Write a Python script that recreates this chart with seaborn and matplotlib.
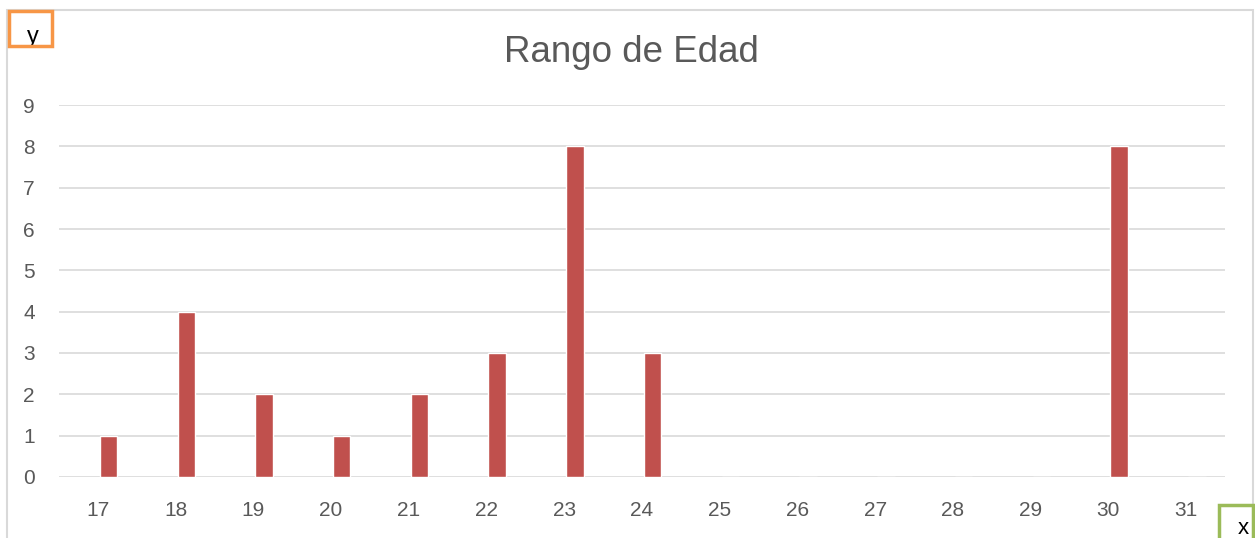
import matplotlib
matplotlib.use("Agg")
import matplotlib.pyplot as plt
import seaborn as sns
import pandas as pd
from matplotlib.patches import Rectangle
from matplotlib.transforms import ScaledTranslation

# data ------------------------------------------------
edades = [17, 18, 19, 20, 21, 22, 23, 24, 25, 26, 27, 28, 29, 30, 31]
conteo = [1, 4, 2, 1, 2, 3, 8, 3, 0, 0, 0, 0, 0, 8, 0]
titulo = "Rango de Edad"
yticks = list(range(0, 10))

df = pd.DataFrame({"edad": [str(e) for e in edades], "n": conteo})

sns.set_style("white")
plt.rcParams['font.family'] = ['Liberation Sans', 'DejaVu Sans']

W, H = 1255, 538
fig = plt.figure(figsize=(W / 100, H / 100), dpi=100)

def fx(x):
    return x / W

def fy(y):
    return 1 - y / H

ax = fig.add_axes([fx(59), fy(477), fx(1225) - fx(59), fy(105) - fy(477)])

sns.barplot(data=df, x="edad", y="n", color="#C0504D", width=0.225,
            saturation=1, ax=ax, zorder=3)

# bars sit a bit right of the category labels (like the excel chart)
shift = 0.1375
ax.set_ylim(0, 9)
ax.set_xlim(-0.5 - shift, len(edades) - 0.5 - shift)
ax.set_yticks(yticks)
ax.yaxis.grid(True, color="#D9D9D9", linewidth=1.2, zorder=0)
ax.set_axisbelow(True)
for s in ax.spines.values():
    s.set_visible(False)
ax.set_xlabel("")
ax.set_ylabel("")
ax.tick_params(axis="both", length=0, labelsize=15, labelcolor="#595959")
ax.tick_params(axis="x", pad=17)
ax.tick_params(axis="y", pad=21.6)
for lbl in ax.get_yticklabels():
    lbl.set_horizontalalignment("center")
off = ScaledTranslation(-10.7 / 100, 0, fig.dpi_scale_trans)
for lbl in ax.get_xticklabels():
    lbl.set_transform(lbl.get_transform() + off)

fig.text(fx(631), fy(53), titulo, ha="center", va="center",
         fontsize=26.5, color="#595959")

# chart border
fig.patches.append(Rectangle((fx(7), fy(545)), fx(1253) - fx(7), fy(10) - fy(545),
                             transform=fig.transFigure, fill=False,
                             edgecolor="#D9D9D9", linewidth=1.5, zorder=0))

# orange "y" box
fig.patches.append(Rectangle((fx(9), fy(46)), fx(52) - fx(9), fy(11) - fy(46),
                             transform=fig.transFigure, fill=False,
                             edgecolor="#F79646", linewidth=2.5, zorder=5))
fig.text(fx(33), fy(37), "y", ha="center", va="center", fontsize=17, color="black")

# green "x" box
fig.patches.append(Rectangle((fx(1219), fy(545)), fx(1253) - fx(1219), fy(505) - fy(545),
                             transform=fig.transFigure, fill=False,
                             edgecolor="#9BBB59", linewidth=2.5, zorder=5))
fig.text(fx(1243), fy(528), "x", ha="center", va="center", fontsize=16, color="black")

plt.savefig("out.png", dpi=100)
